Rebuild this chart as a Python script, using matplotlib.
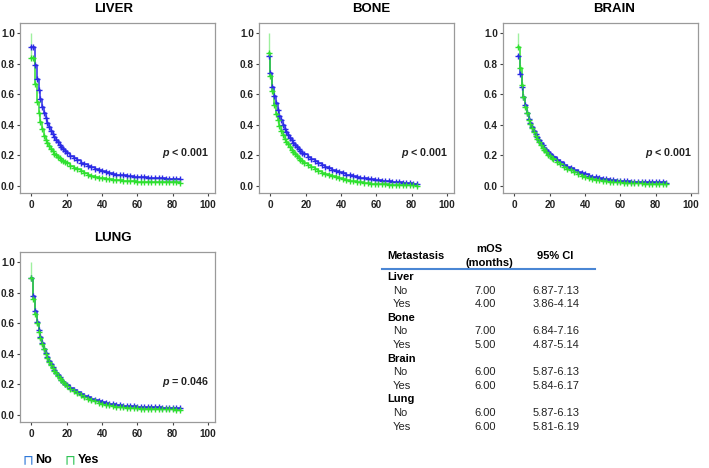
import matplotlib.pyplot as plt
import numpy as np

plt.rcParams['font.family'] = ['Liberation Sans', 'DejaVu Sans']
plt.rcParams['mathtext.fontset'] = 'custom'
plt.rcParams['mathtext.it'] = 'Liberation Sans:italic:bold'
plt.rcParams['mathtext.rm'] = 'Liberation Sans:bold'

# time grid (months since start of each panel's curve)
months = list(range(0, 21)) + list(range(22, 86, 2))

# per-panel start of the curves on the x axis
panels = ['LIVER', 'BONE', 'BRAIN', 'LUNG']
start = {'LIVER': 0, 'BONE': -1, 'BRAIN': 2, 'LUNG': 0}
pvals = {'LIVER': '< 0.001', 'BONE': '< 0.001', 'BRAIN': '< 0.001', 'LUNG': '= 0.046'}

# survival estimates, "No" = no metastasis at that site, "Yes" = metastasis
liver_no = [0.91, 0.91, 0.79, 0.70, 0.63, 0.57, 0.52, 0.48, 0.445, 0.415, 0.385, 0.36, 0.34, 0.32, 0.30,
            0.285, 0.27, 0.255, 0.24, 0.228, 0.216,
            0.197, 0.182, 0.167, 0.153, 0.142, 0.131, 0.121, 0.112, 0.103, 0.095, 0.089, 0.084, 0.079, 0.075,
            0.072, 0.069, 0.066, 0.064, 0.062, 0.060, 0.058, 0.056, 0.055, 0.053, 0.052, 0.050, 0.049, 0.048,
            0.047, 0.046, 0.045, 0.044]
liver_yes = [0.84, 0.84, 0.67, 0.55, 0.48, 0.42, 0.37, 0.33, 0.30, 0.28, 0.26, 0.242, 0.226, 0.212, 0.20,
             0.19, 0.18, 0.171, 0.163, 0.155, 0.148,
             0.133, 0.120, 0.108, 0.095, 0.084, 0.075, 0.068, 0.061, 0.055, 0.050, 0.046, 0.043, 0.040, 0.038,
             0.036, 0.034, 0.033, 0.031, 0.030, 0.029, 0.028, 0.027, 0.027, 0.026, 0.026, 0.025, 0.025, 0.024,
             0.024, 0.023, 0.023, 0.022]
bone_no = [0.85, 0.74, 0.65, 0.59, 0.54, 0.50, 0.46, 0.43, 0.40, 0.375, 0.355, 0.335, 0.315, 0.298, 0.282,
           0.267, 0.253, 0.240, 0.228, 0.217, 0.207,
           0.190, 0.175, 0.161, 0.148, 0.136, 0.125, 0.115, 0.106, 0.097, 0.089, 0.082, 0.075, 0.069, 0.063,
           0.058, 0.054, 0.050, 0.046, 0.043, 0.040, 0.037, 0.035, 0.032, 0.030, 0.028, 0.026, 0.024, 0.022,
           0.020, 0.018, 0.016, 0.015]
bone_yes = [0.87, 0.72, 0.62, 0.53, 0.47, 0.43, 0.39, 0.36, 0.335, 0.31, 0.29, 0.272, 0.255, 0.238, 0.223,
            0.209, 0.196, 0.184, 0.173, 0.162, 0.152,
            0.136, 0.122, 0.109, 0.098, 0.088, 0.079, 0.071, 0.063, 0.056, 0.050, 0.045, 0.038, 0.034, 0.030,
            0.026, 0.023, 0.020, 0.018, 0.016, 0.014, 0.012, 0.011, 0.010, 0.009, 0.008, 0.007, 0.006, 0.006,
            0.005, 0.004, 0.004, 0.003]
brain_no = [0.85, 0.73, 0.645, 0.58, 0.53, 0.48, 0.44, 0.41, 0.385, 0.36, 0.34, 0.32, 0.30, 0.283, 0.266,
            0.250, 0.235, 0.221, 0.207, 0.197, 0.188,
            0.170, 0.154, 0.140, 0.127, 0.115, 0.104, 0.094, 0.085, 0.076, 0.068, 0.062, 0.056, 0.051, 0.047,
            0.043, 0.040, 0.037, 0.035, 0.033, 0.031, 0.030, 0.029, 0.028, 0.027, 0.026, 0.025, 0.025, 0.024,
            0.024, 0.023, 0.023, 0.022]
brain_yes = [0.91, 0.77, 0.66, 0.58, 0.52, 0.475, 0.435, 0.405, 0.378, 0.352, 0.330, 0.308, 0.290, 0.265, 0.250,
             0.234, 0.220, 0.206, 0.193, 0.183, 0.174,
             0.157, 0.141, 0.127, 0.114, 0.102, 0.091, 0.078, 0.068, 0.059, 0.052, 0.046, 0.041, 0.037, 0.034,
             0.031, 0.029, 0.027, 0.025, 0.024, 0.022, 0.021, 0.020, 0.019, 0.018, 0.017, 0.016, 0.016, 0.015,
             0.015, 0.014, 0.014, 0.013]
lung_no = [0.90, 0.78, 0.68, 0.61, 0.555, 0.51, 0.47, 0.435, 0.405, 0.38, 0.355, 0.333, 0.313, 0.295, 0.278,
           0.263, 0.249, 0.232, 0.218, 0.206, 0.195,
           0.178, 0.162, 0.148, 0.136, 0.125, 0.115, 0.106, 0.098, 0.090, 0.083, 0.078, 0.073, 0.069, 0.066,
           0.063, 0.061, 0.059, 0.057, 0.056, 0.055, 0.054, 0.053, 0.052, 0.051, 0.050, 0.049, 0.048, 0.047,
           0.046, 0.045, 0.044, 0.044]
lung_yes = [0.90, 0.76, 0.66, 0.60, 0.545, 0.505, 0.465, 0.43, 0.40, 0.375, 0.35, 0.328, 0.308, 0.29, 0.273,
            0.258, 0.243, 0.229, 0.215, 0.203, 0.192,
            0.173, 0.157, 0.142, 0.129, 0.117, 0.106, 0.097, 0.089, 0.081, 0.074, 0.068, 0.063, 0.059, 0.055,
            0.052, 0.050, 0.048, 0.046, 0.044, 0.043, 0.042, 0.041, 0.040, 0.039, 0.038, 0.038, 0.037, 0.037,
            0.036, 0.036, 0.035, 0.035]

curves = {'LIVER': (liver_no, liver_yes), 'BONE': (bone_no, bone_yes),
          'BRAIN': (brain_no, brain_yes), 'LUNG': (lung_no, lung_yes)}

# median OS table
tab_sites = ['Liver', 'Bone', 'Brain', 'Lung']
tab_groups = ['No', 'Yes']
tab_mos = [['7.00', '4.00'], ['7.00', '5.00'], ['6.00', '6.00'], ['6.00', '6.00']]
tab_ci = [['6.87-7.13', '3.86-4.14'], ['6.84-7.16', '4.87-5.14'],
          ['5.87-6.13', '5.84-6.17'], ['5.87-6.13', '5.81-6.19']]

BLUE = '#2b2be6'
GREEN = '#2fe02f'
W, H = 709, 468

fig = plt.figure(figsize=(W / 100, H / 100), dpi=100)

# panel boxes in pixels: left, top
boxes = {'LIVER': (20, 23), 'BONE': (259, 23), 'BRAIN': (503, 23), 'LUNG': (20, 252)}
titles_px = {'LIVER': (114, 9), 'BONE': (371, 9), 'BRAIN': (614, 9), 'LUNG': (113, 238)}
aw, ah = 195, 170

for name in panels:
    l, t = boxes[name]
    ax = fig.add_axes([l / W, (H - t - ah) / H, aw / W, ah / H])
    tt = np.array(months) + start[name]
    no, yes = curves[name]
    # light start of the "Yes" curve from 1.0
    ax.vlines(tt[0], yes[0], 1.0, color='#9ff09f', lw=1.0, zorder=1)
    for s, c in [(no, BLUE), (yes, GREEN)]:
        ax.step(tt, s, where='post', color=c, lw=1.1, zorder=2)
        ax.plot(tt, s, '+', color=c, ms=4, mew=1.0, zorder=3)
    ax.set_xlim(-6.5, 104)
    ax.set_ylim(-0.046, 1.067)
    ax.set_xticks([0, 20, 40, 60, 80, 100])
    ax.set_yticks([0.0, 0.2, 0.4, 0.6, 0.8, 1.0])
    ax.set_yticklabels(['0.0', '0.2', '0.4', '0.6', '0.8', '1.0'])
    ax.tick_params(labelsize=7.2, length=2.2, width=0.8, color='#444444', pad=1.5, labelcolor='#222222')
    ax.tick_params(axis='x', pad=3)
    for lab in ax.get_xticklabels() + ax.get_yticklabels():
        lab.set_fontweight('bold')
    for sp in ax.spines.values():
        sp.set_color('#9a9a9a')
        sp.set_linewidth(0.9)
    ax.text(100.5, 0.215, r'$p$ ' + pvals[name], ha='right', va='center', fontsize=7.7,
            fontweight='bold', color='#222222')
    tx, ty = titles_px[name]
    fig.text(tx / W, 1 - ty / H, name, ha='center', va='center', fontsize=9.5, fontweight='bold')

# legend
fig.text(23 / W, 1 - 460 / H, '\u2293', color='#2f78d8', fontsize=10, va='center', ha='left',
         family=['DejaVu Sans'])
fig.text(35 / W, 1 - 460 / H, 'No', fontsize=9, fontweight='bold', va='center', ha='left')
fig.text(65 / W, 1 - 460 / H, '\u2293', color='#2fc455', fontsize=10, va='center', ha='left',
         family=['DejaVu Sans'])
fig.text(78 / W, 1 - 460 / H, 'Yes', fontsize=9, fontweight='bold', va='center', ha='left')

# table
fs = 8
fig.text(387 / W, 1 - 256 / H, 'Metastasis', fontsize=fs, fontweight='bold', va='center', ha='left')
fig.text(489 / W, 1 - 249.5 / H, 'mOS', fontsize=fs, fontweight='bold', va='center', ha='center')
fig.text(489 / W, 1 - 263 / H, '(months)', fontsize=fs, fontweight='bold', va='center', ha='center')
fig.text(555 / W, 1 - 256 / H, '95% CI', fontsize=fs, fontweight='bold', va='center', ha='center')
fig.add_artist(plt.Line2D([382 / W, 595 / W], [1 - 269 / H, 1 - 269 / H], color='#4a86d4', lw=1.5))

row_h = 13.6
y = 277
for i, site in enumerate(tab_sites):
    fig.text(387 / W, 1 - y / H, site, fontsize=fs, fontweight='bold', va='center', ha='left')
    y += row_h
    for j, g in enumerate(tab_groups):
        fig.text(393 / W, 1 - y / H, g, fontsize=fs, va='center', ha='left', color='#222222')
        fig.text(485 / W, 1 - y / H, tab_mos[i][j], fontsize=fs, va='center', ha='center', color='#222222')
        fig.text(556 / W, 1 - y / H, tab_ci[i][j], fontsize=fs, va='center', ha='center', color='#222222')
        y += row_h

fig.savefig('out.png', dpi=100)
